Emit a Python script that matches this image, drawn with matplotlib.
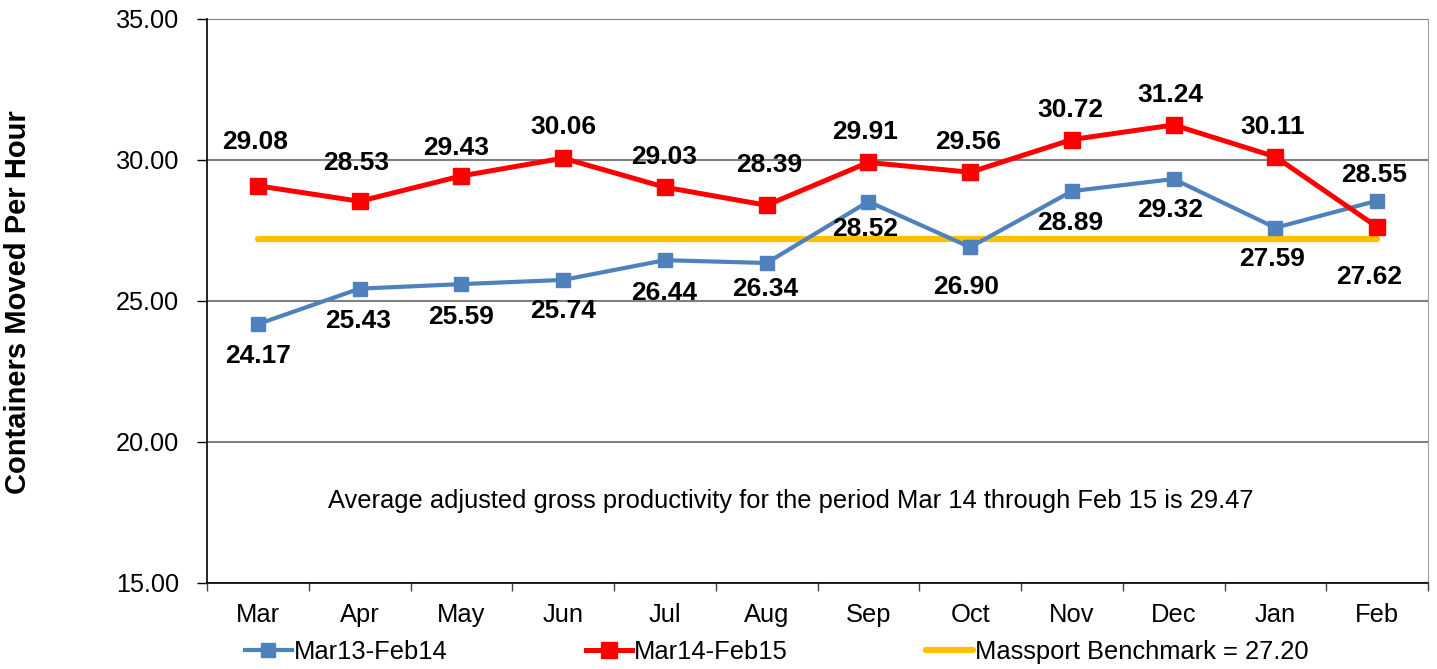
import matplotlib
matplotlib.use("Agg")
import matplotlib.pyplot as plt

plt.rcParams['font.family'] = ['Liberation Sans', 'DejaVu Sans']

# data
months = ["Mar", "Apr", "May", "Jun", "Jul", "Aug", "Sep", "Oct", "Nov", "Dec", "Jan", "Feb"]
prev_year = [24.17, 25.43, 25.59, 25.74, 26.44, 26.34, 28.52, 26.90, 28.89, 29.32, 27.59, 28.55]
curr_year = [29.08, 28.53, 29.43, 30.06, 29.03, 28.39, 29.91, 29.56, 30.72, 31.24, 30.11, 27.62]
benchmark = 27.20
avg_note = "Average adjusted gross productivity for the period Mar 14 through Feb 15 is 29.47"

# label offsets in pixels (dx, dy) - placed by hand like in the original
prev_offsets = [(0, -32), (-1, -32), (0, -33), (0, -31), (-1, -33), (-1, -26),
                (-3, -27), (-4, -40), (-2, -32), (-3, -31), (-3, -31), (-3, 26)]
curr_offsets = [(-3, 44), (-3, 38), (-5, 28), (0, 31), (-1, 30), (3, 40),
                (-3, 30), (-2, 30), (-2, 30), (-3, 30), (-3, 30), (-8, -50)]

BLUE = "#4F81BD"
RED = "#FF0000"
GOLD = "#FFC000"
FS = 18.4

fig = plt.figure(figsize=(14.37, 6.69), dpi=100)
ax = fig.add_axes([207 / 1437, 1 - 582.5 / 669, (1428 - 207) / 1437, (582.5 - 19) / 669])

x = list(range(len(months)))

ax.plot(x, prev_year, color=BLUE, lw=3.0, marker="s", ms=10, zorder=4,
        label="Mar13-Feb14")
ax.plot(x, curr_year, color=RED, lw=3.6, marker="s", ms=11.5, zorder=5,
        label="Mar14-Feb15")
ax.plot([x[0], x[-1]], [benchmark, benchmark], color=GOLD, lw=4.5,
        solid_capstyle="round", zorder=3, label="Massport Benchmark = 27.20")

for xi, v, (dx, dy) in zip(x, prev_year, prev_offsets):
    ax.annotate(f"{v:.2f}", (xi, v), xytext=(dx, dy), textcoords="offset pixels",
                ha="center", va="center", fontsize=19, fontweight="bold", zorder=6)
for xi, v, (dx, dy) in zip(x, curr_year, curr_offsets):
    ax.annotate(f"{v:.2f}", (xi, v), xytext=(dx, dy), textcoords="offset pixels",
                ha="center", va="center", fontsize=19, fontweight="bold", zorder=6)

ax.text(5.24, 17.91, avg_note, ha="center", va="center", fontsize=18.4)

ax.set_xlim(-0.5, len(months) - 0.5)
ax.set_ylim(15, 35)
ax.set_yticks([15, 20, 25, 30, 35])
ax.set_yticklabels([f"{t:.2f}" for t in [15, 20, 25, 30, 35]], fontsize=18.2)
ax.set_xticks(x)
ax.set_xticklabels(months, fontsize=FS)
ax.set_xticks([i - 0.5 for i in range(len(months) + 1)], minor=True)
ax.tick_params(axis="x", which="major", length=0, pad=15)
ax.tick_params(axis="x", which="minor", length=6, width=1, color="#404040")
ax.tick_params(axis="y", length=7, width=1, pad=13)

ax.grid(axis="y", color="#808080", lw=1.5)
ax.set_axisbelow(True)
ax.spines["top"].set_visible(False)
ax.spines["right"].set_color("#A0A0A0")
ax.spines["left"].set_linewidth(1.2)
ax.spines["bottom"].set_linewidth(1.2)

fig.text(18 / 1437, 1 - 302 / 669, "Containers Moved Per Hour", rotation=90,
         ha="center", va="center", fontsize=21, fontweight="bold")

fig.legend(loc="center left", bbox_to_anchor=(245 / 1437, 1 - 652 / 669), ncol=3,
           frameon=False, fontsize=FS, handlelength=1.83, handletextpad=0.08,
           columnspacing=5.4, borderpad=0, borderaxespad=0)

fig.savefig("out.png", dpi=100)
